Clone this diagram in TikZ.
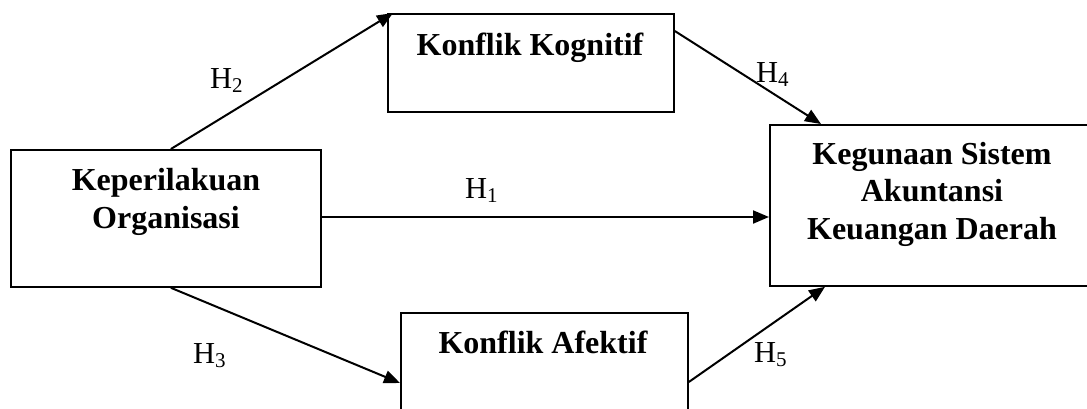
\documentclass[tikz,border=0pt]{standalone}
\usepackage{fontspec}
\setmainfont{Liberation Serif}
\usetikzlibrary{arrows.meta,calc}
\tikzset{
  box/.style={draw, line width=1.8pt, rectangle, inner sep=0pt, anchor=north west},
  boxtext/.style={font=\fontsize{32}{37.5}\selectfont\bfseries, align=center, inner sep=0pt, anchor=base},
  hlabel/.style={font=\fontsize{30.5}{34}\selectfont, inner sep=0pt, anchor=base west},
  arr/.style={line width=2pt, -{Triangle[length=16pt,width=13pt]}},
}
\newcommand{\hyp}[1]{H\raisebox{-4pt}{\fontsize{21}{24}\selectfont #1}}
\begin{document}
\begin{tikzpicture}[x=1pt,y=-1pt]
\useasboundingbox (0,0) rectangle (1087,408);
\clip (0,0) rectangle (1087,408);
% boxes
\node[box, minimum width=310pt, minimum height=137pt] (kep) at (10,149) {};
\node[box, minimum width=286pt, minimum height=98pt] (kk) at (387,13) {};
\node[box, minimum width=287pt, minimum height=140pt] (ka) at (400,312) {};
\node[box, minimum width=340pt, minimum height=161pt] (keg) at (769,124) {};
% texts
\node[boxtext] (tkep) at (166,228) {Keperilakuan\\Organisasi};
\node[boxtext] (tkk) at (530,55) {Konflik Kognitif};
\node[boxtext] (tka) at (543,353) {Konflik Afektif};
\node[boxtext] (tkeg) at (932,239) {Kegunaan Sistem\\Akuntansi\\Keuangan Daerah};
% arrows
\draw[arr] ($(kep.north)+(5,0)$) -- ($(kk.north west)+(6,0)$);
\draw[arr] ($(kep.south)+(5,0)$) -- ($(ka.north west)+(0,71)$);
\draw[arr] (kep.east |- 0,217) -- (keg.west |- 0,217);
\draw[arr] ($(kk.north east)+(0,18)$) -- ($(keg.north west)+(52,0)$);
\draw[arr] ($(ka.north east)+(0,70)$) -- ($(keg.south west)+(56,0)$);
% labels
\node[hlabel] (h2) at (210,88) {\hyp{2}};
\node[hlabel] (h1) at (465,198) {\hyp{1}};
\node[hlabel] (h3) at (193,363) {\hyp{3}};
\node[hlabel] (h4) at (756,82) {\hyp{4}};
\node[hlabel] (h5) at (754,362) {\hyp{5}};
\end{tikzpicture}
\end{document}
